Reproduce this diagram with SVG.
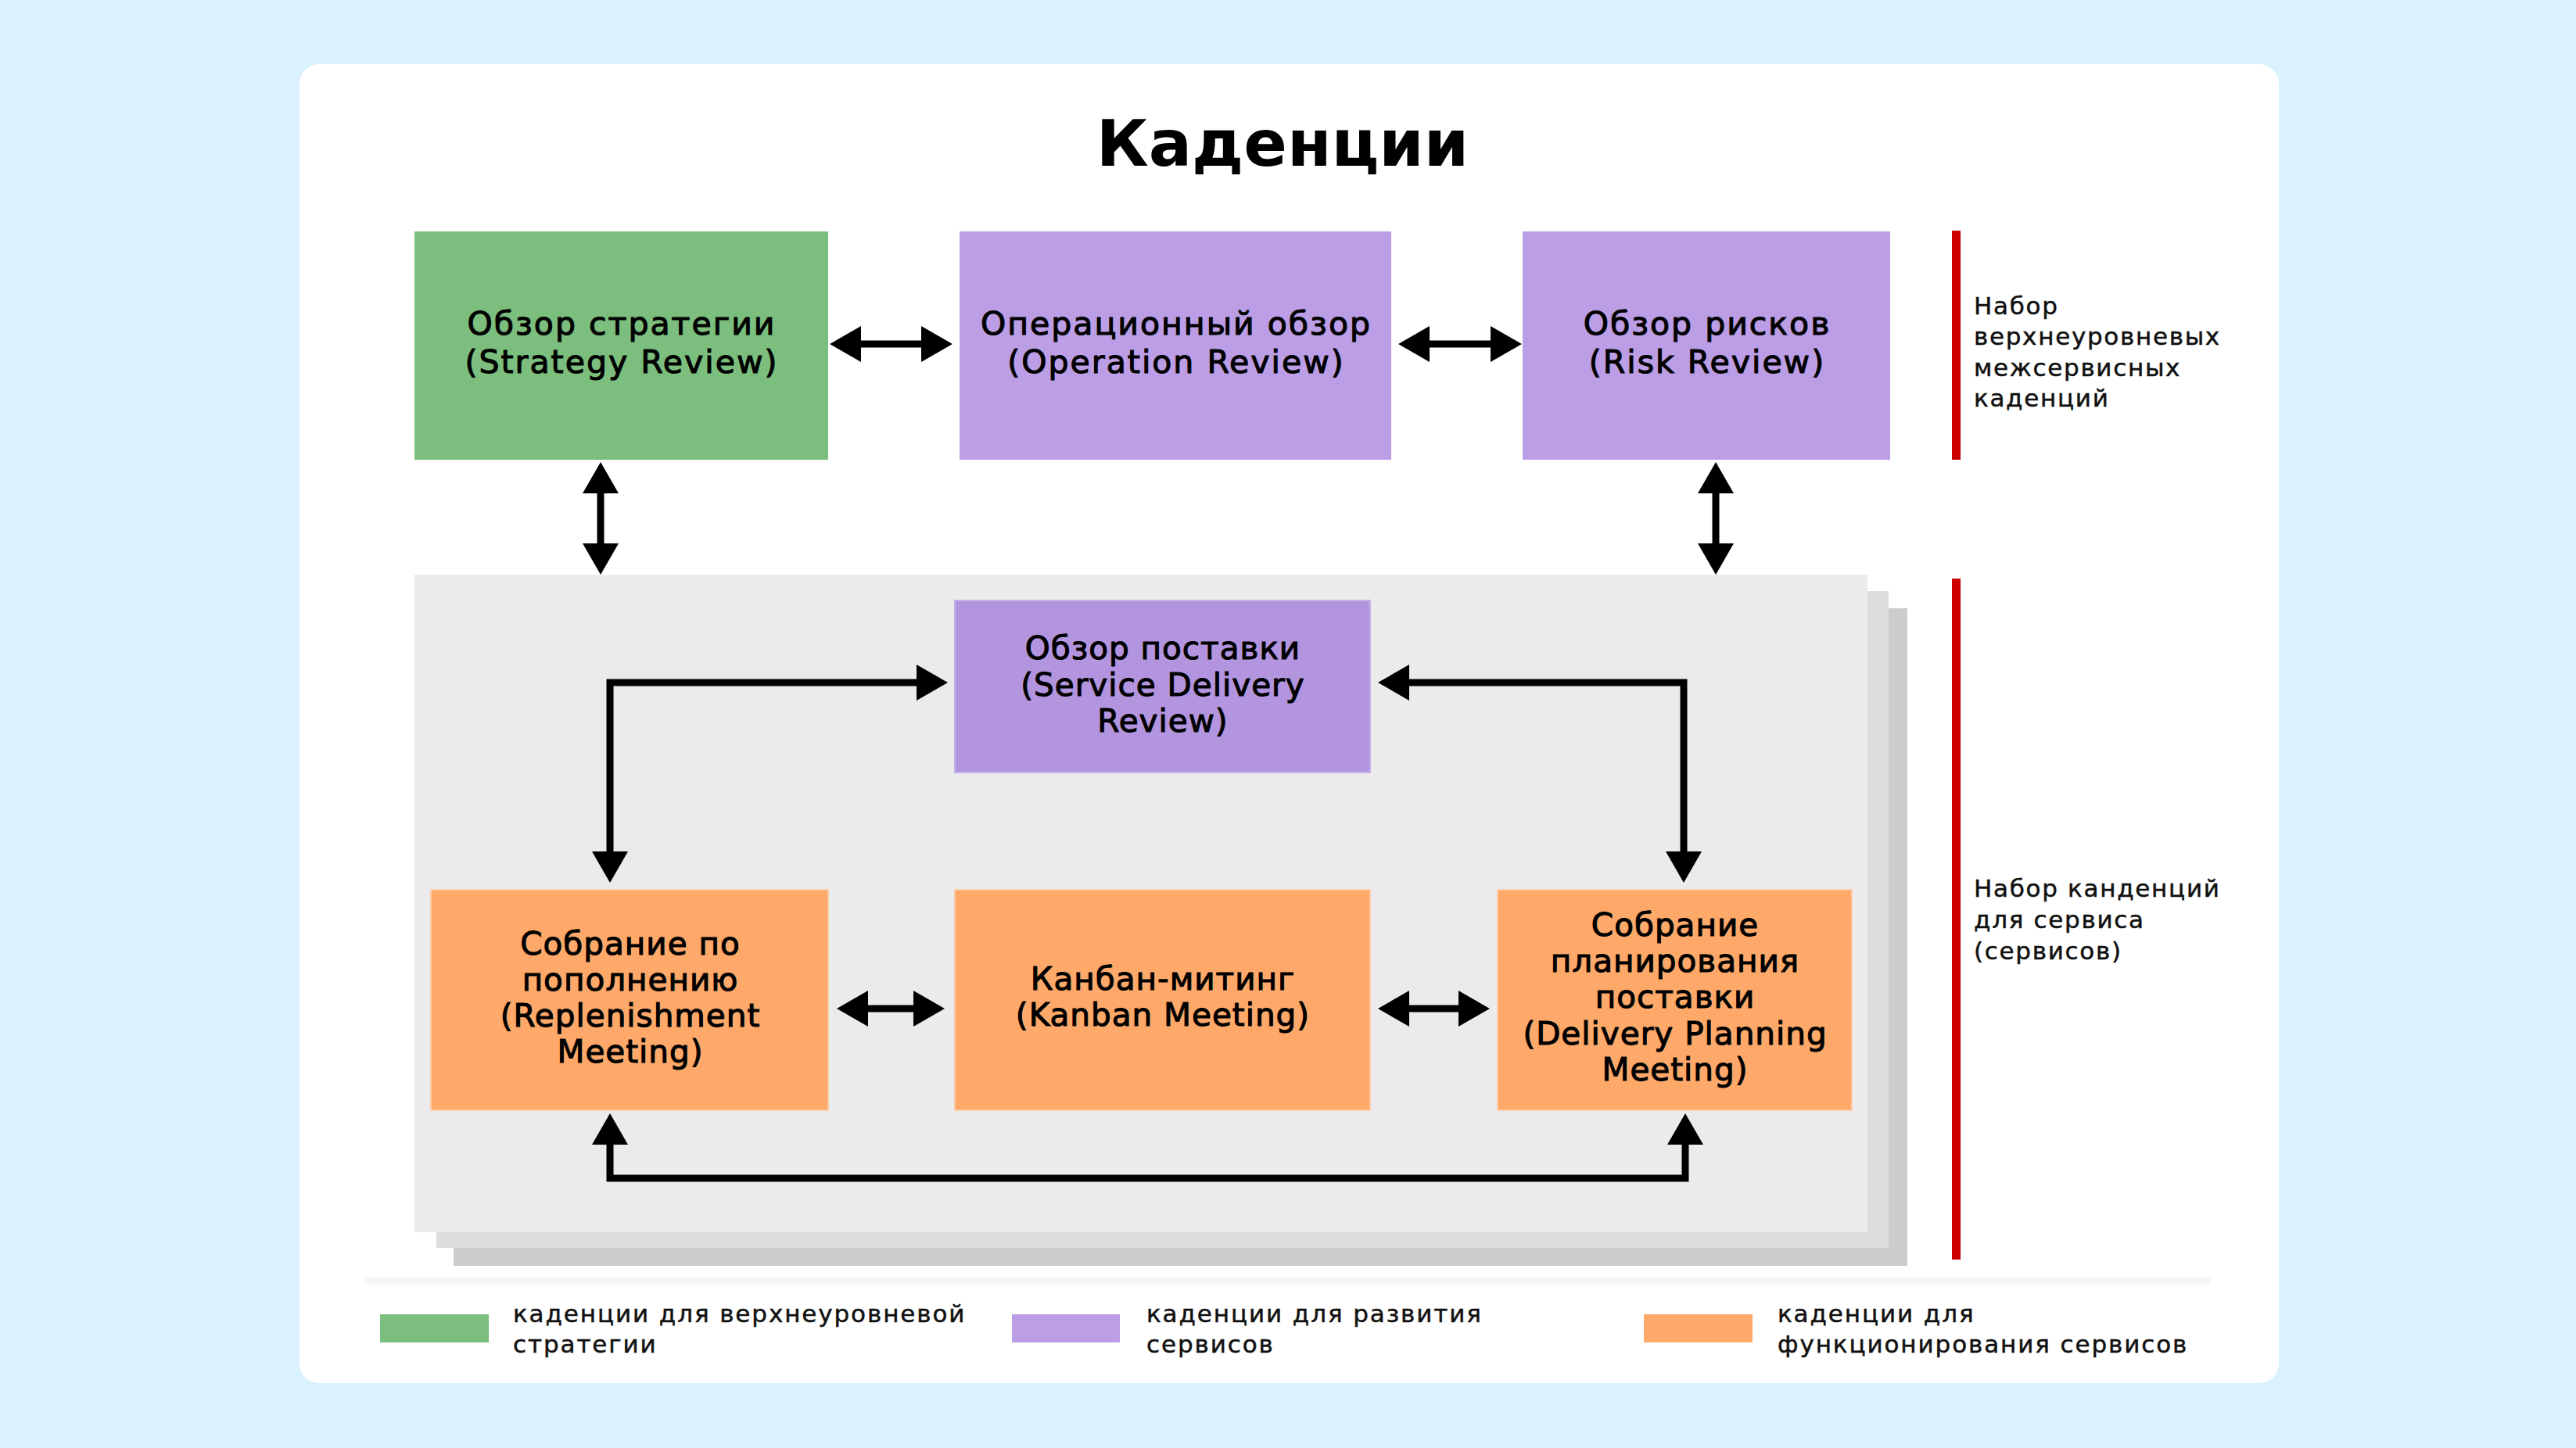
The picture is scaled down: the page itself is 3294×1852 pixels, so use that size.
<svg xmlns="http://www.w3.org/2000/svg" width="3294" height="1852" viewBox="0 0 3294 1852">
<defs>
<style>
.node-text{font-family:"DejaVu Sans","Liberation Sans",sans-serif;font-size:40.5px;fill:#000;text-anchor:middle;stroke:#000;stroke-width:1.1px;letter-spacing:1px}
.top-text{font-size:41px;letter-spacing:2px}
.side-text{font-family:"DejaVu Sans","Liberation Sans",sans-serif;font-size:31px;fill:#111;stroke:#111;stroke-width:0.5px;letter-spacing:1.7px}
.legend-text{font-family:"DejaVu Sans","Liberation Sans",sans-serif;font-size:31px;fill:#111;stroke:#111;stroke-width:0.5px;letter-spacing:1.9px}
.title{font-family:"DejaVu Sans","Liberation Sans",sans-serif;font-size:82px;font-weight:bold;fill:#000;text-anchor:middle}
.green{fill:#7BBE7D}
.purple{fill:#BC9EE6}
.purple2{fill:#B395DF;stroke:#C6B0EA;stroke-width:2}
.orange{fill:#FEA96A;stroke:#FCCBA6;stroke-width:2}
.conn{fill:none;stroke:#000;stroke-width:9;marker-start:url(#ah);marker-end:url(#ah)}
.redline{fill:#CC0000}
</style>
<marker id="ah" markerUnits="userSpaceOnUse" markerWidth="44" markerHeight="50" viewBox="0 -25 44 50" refX="1" refY="0" orient="auto-start-reverse">
<path d="M0,-23 L40,0 L0,23 Z" fill="#000"/>
</marker>
</defs>

<rect x="0" y="0" width="3294" height="1852" fill="#DAF2FD"/>
<rect x="383" y="82" width="2531" height="1687" rx="25" ry="25" fill="#FFFFFF"/>

<text class="title" x="1640" y="212">Каденции</text>

<g id="service-panel">
<rect x="580" y="778" width="1859" height="841" fill="#CCCCCC"/>
<rect x="558" y="756" width="1857" height="840" fill="#DDDDDD"/>
<rect x="530" y="735" width="1858" height="841" fill="#EBEBEB"/>
</g>

<g id="group-labels">
<rect class="redline" x="2496" y="295" width="11" height="293"/>
<text class="side-text">
<tspan x="2524" y="402">Набор</tspan>
<tspan x="2524" y="441">верхнеуровневых</tspan>
<tspan x="2524" y="481">межсервисных</tspan>
<tspan x="2524" y="520">каденций</tspan>
</text>
<rect class="redline" x="2496" y="740" width="11" height="871"/>
<text class="side-text">
<tspan x="2524" y="1147">Набор канденций</tspan>
<tspan x="2524" y="1187">для сервиса</tspan>
<tspan x="2524" y="1227">(сервисов)</tspan>
</text>
</g>

<g id="node-strategy">
<rect class="green" x="530" y="296" width="529" height="292"/>
<text class="node-text top-text"><tspan x="795" y="428">Обзор стратегии</tspan><tspan x="795" y="477">(Strategy Review)</tspan></text>
</g>
<g id="node-operation">
<rect class="purple" x="1227" y="296" width="552" height="292"/>
<text class="node-text top-text"><tspan x="1504" y="428">Операционный обзор</tspan><tspan x="1504" y="477">(Operation Review)</tspan></text>
</g>
<g id="node-risk">
<rect class="purple" x="1947" y="296" width="470" height="292"/>
<text class="node-text top-text"><tspan x="2183" y="428">Обзор рисков</tspan><tspan x="2183" y="477">(Risk Review)</tspan></text>
</g>
<g id="node-sdr">
<rect class="purple2" x="1221" y="768" width="531" height="220"/>
<text class="node-text"><tspan x="1487" y="843">Обзор поставки</tspan><tspan x="1487" y="890">(Service Delivery</tspan><tspan x="1487" y="936">Review)</tspan></text>
</g>
<g id="node-replenishment">
<rect class="orange" x="551" y="1138" width="508" height="282"/>
<text class="node-text"><tspan x="806" y="1221">Собрание по</tspan><tspan x="806" y="1267">пополнению</tspan><tspan x="806" y="1313">(Replenishment</tspan><tspan x="806" y="1359">Meeting)</tspan></text>
</g>
<g id="node-kanban">
<rect class="orange" x="1221" y="1138" width="531" height="282"/>
<text class="node-text"><tspan x="1487" y="1266">Канбан-митинг</tspan><tspan x="1487" y="1312">(Kanban Meeting)</tspan></text>
</g>
<g id="node-delivery">
<rect class="orange" x="1915" y="1138" width="453" height="282"/>
<text class="node-text"><tspan x="2142" y="1197">Собрание</tspan><tspan x="2142" y="1243">планирования</tspan><tspan x="2142" y="1289">поставки</tspan><tspan x="2142" y="1336">(Delivery Planning</tspan><tspan x="2142" y="1382">Meeting)</tspan></text>
</g>

<g id="connectors">
<path class="conn" d="M1100,440 H1179"/>
<path class="conn" d="M1827,440 H1907"/>
<path class="conn" d="M768,630 V696"/>
<path class="conn" d="M2194,630 V696"/>
<path class="conn" d="M780,1090 V873 H1173"/>
<path class="conn" d="M2153,1090 V873 H1801"/>
<path class="conn" d="M1109,1290 H1169"/>
<path class="conn" d="M1801,1290 H1866"/>
<path class="conn" d="M780,1463 V1507 H2155 V1463"/>
</g>

<g id="legend">
<rect x="466" y="1633" width="2361" height="10" fill="#F6F6F6"/>
<rect class="green" x="486" y="1681" width="139" height="36"/>
<text class="legend-text"><tspan x="656" y="1691">каденции для верхнеуровневой</tspan><tspan x="656" y="1730">стратегии</tspan></text>
<rect class="purple" x="1294" y="1681" width="138" height="36"/>
<text class="legend-text"><tspan x="1466" y="1691">каденции для развития</tspan><tspan x="1466" y="1730">сервисов</tspan></text>
<rect fill="#FEA96A" x="2102" y="1681" width="139" height="36"/>
<text class="legend-text"><tspan x="2273" y="1691">каденции для</tspan><tspan x="2273" y="1730">функционирования сервисов</tspan></text>
</g>
</svg>
